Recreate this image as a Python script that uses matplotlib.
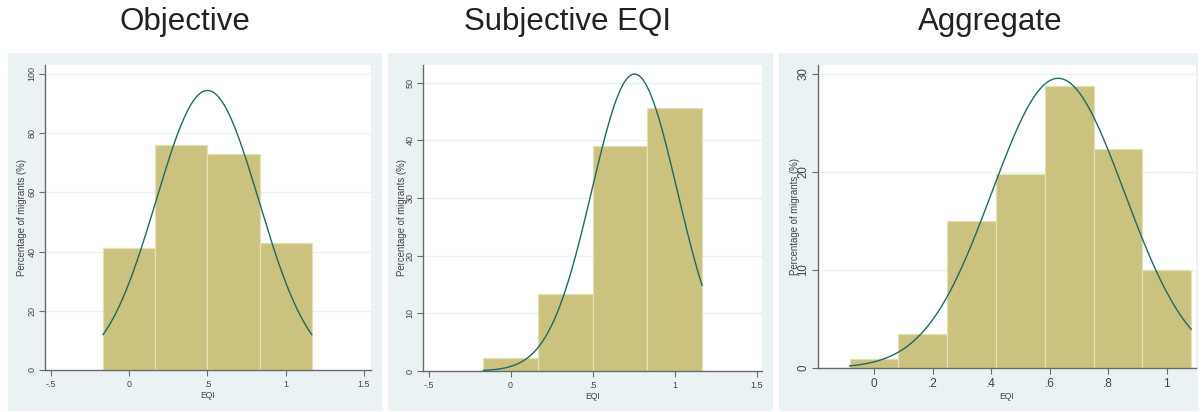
import numpy as np
import matplotlib.pyplot as plt
from matplotlib.patches import Rectangle

plt.rcParams["font.family"] = ["Liberation Sans", "DejaVu Sans"]

# --- data ---
titles = ["Objective", "Subjective EQI", "Aggregate"]

obj_edges = [-1 / 6, 1 / 6, 0.5, 5 / 6, 7 / 6]
obj_pct = [41.1, 76.0, 73.1, 43.0]
obj_fit = (0.50, 0.328, 94.4)  # mean, sd, peak of the normal overlay

subj_edges = [-1 / 6, 1 / 6, 0.5, 5 / 6, 7 / 6]
subj_pct = [2.25, 13.3, 39.05, 45.55]
subj_fit = (0.755, 0.261, 51.5)

agg_edges = [-1 / 12, 1 / 12, 0.25, 5 / 12, 7 / 12, 0.75, 11 / 12, 13 / 12]
agg_pct = [0.9, 3.45, 15.05, 19.8, 28.8, 22.35, 9.95]
agg_fit = (0.629, 0.2265, 29.56)

obj_xticks = [-0.5, 0, 0.5, 1, 1.5]
obj_xlabels = ["-.5", "0", ".5", "1", "1.5"]
obj_yticks = [0, 20, 40, 60, 80, 100]
subj_yticks = [0, 10, 20, 30, 40, 50]
agg_xticks = [0, 0.2, 0.4, 0.6, 0.8, 1]
agg_xlabels = ["0", ".2", ".4", ".6", ".8", "1"]
agg_yticks = [0, 10, 20, 30]

W, H = 1204, 412
BG = "#eaf2f3"
BAR = "#cac27e"
BAR_EDGE = "#e4e0b4"
CURVE = "#1d6b68"

fig = plt.figure(figsize=(W / 100, H / 100), dpi=100)


def px_rect(x0, y0, x1, y1):
    return [x0 / W, 1 - y1 / H, (x1 - x0) / W, (y1 - y0) / H]


# panel backgrounds
for x0, x1 in [(8, 382), (388, 773), (779, 1198)]:
    fig.patches.append(Rectangle((x0 / W, 1 - 411 / H), (x1 - x0) / W, (411 - 53) / H,
                                 transform=fig.transFigure, facecolor=BG,
                                 edgecolor="none", zorder=-1))

panels = [
    dict(edges=obj_edges, pct=obj_pct, fit=obj_fit, xt=obj_xticks, xl=obj_xlabels,
         yt=obj_yticks, xlim=(-0.538, 1.545), ylim=(0, 103.0),
         box=(45, 65, 371, 370), fs_x=6.4, fs_y=6.5, ylab_x=22, title_x=185),
    dict(edges=subj_edges, pct=subj_pct, fit=subj_fit, xt=obj_xticks, xl=obj_xlabels,
         yt=subj_yticks, xlim=(-0.534, 1.532), ylim=(0, 53.07),
         box=(423, 65, 762, 371), fs_x=6.4, fs_y=6.5, ylab_x=402, title_x=568),
    dict(edges=agg_edges, pct=agg_pct, fit=agg_fit, xt=agg_xticks, xl=agg_xlabels,
         yt=agg_yticks, xlim=(-0.1915, 1.100), ylim=(0, 30.92),
         box=(818, 65, 1196, 368), fs_x=8.5, fs_y=8.3, ylab_x=795, title_x=990),
]

for title, p in zip(titles, panels):
    x0, y0, x1, y1 = p["box"]
    ax = fig.add_axes(px_rect(x0, y0, x1, y1))
    ax.set_facecolor("white")
    edges = np.array(p["edges"])
    ax.bar(edges[:-1], p["pct"], width=np.diff(edges), align="edge",
           color=BAR, edgecolor=BAR_EDGE, linewidth=0.9, zorder=2)
    mu, sd, peak = p["fit"]
    xs = np.linspace(edges[0], edges[-1], 300)
    ax.plot(xs, peak * np.exp(-0.5 * ((xs - mu) / sd) ** 2), color=CURVE, lw=1.0, zorder=3)

    ax.set_xlim(*p["xlim"])
    ax.set_ylim(*p["ylim"])
    ax.set_xticks(p["xt"])
    ax.set_xticklabels(p["xl"])
    ax.set_yticks(p["yt"])
    for yv in p["yt"][1:]:
        ax.axhline(yv, color=BG, lw=1.0, zorder=1)

    for side in ["top", "right"]:
        ax.spines[side].set_visible(False)
    for side in ["left", "bottom"]:
        ax.spines[side].set_color("#6a6a6a")
        ax.spines[side].set_linewidth(1.0)
    ax.tick_params(axis="x", length=4, width=0.8, color="#6a6a6a",
                   labelsize=p["fs_x"], labelcolor="#444444", pad=3)
    ax.tick_params(axis="y", length=4, width=0.8, color="#6a6a6a",
                   labelsize=p["fs_y"], labelcolor="#444444", pad=2, labelrotation=90)
    for lab in ax.get_yticklabels():
        lab.set_va("center")

    ax.set_xlabel("EQI", fontsize=6.2, color="#444444", labelpad=1.5)
    fig.text(p["ylab_x"] / W, 1 - ((y0 + y1) / 2) / H, "Percentage of migrants (%)",
             rotation=90, ha="center", va="center", fontsize=6.9, color="#444444")
    fig.text(p["title_x"] / W, 1 - 22 / H, title, ha="center", va="center",
             fontsize=22.5, color="#222222")

fig.savefig("out.png", dpi=100)
